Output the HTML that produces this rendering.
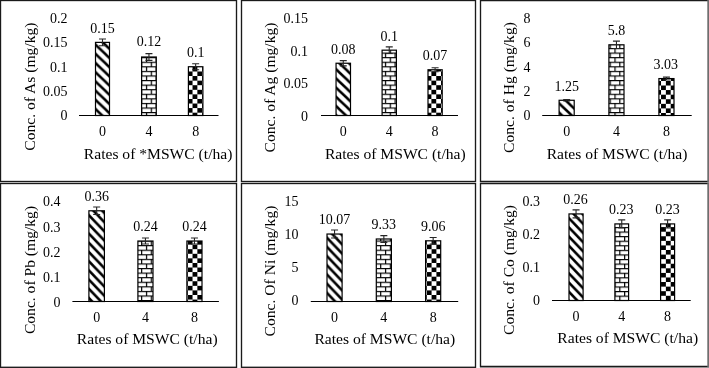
<!DOCTYPE html>
<html lang="en"><head><meta charset="utf-8"><title>Heavy metal concentrations vs MSWC rates</title>
<style>
html,body{margin:0;padding:0;background:#fff}
body{width:709px;height:368px;overflow:hidden}
svg{display:block;will-change:transform}
.t{font-family:"Liberation Serif", "DejaVu Serif", serif;font-size:14.0px;fill:#000}
.a{font-family:"Liberation Serif", "DejaVu Serif", serif;font-size:15.6px;fill:#000}
</style></head><body>
<svg width="709" height="368" viewBox="0 0 709 368">
<rect width="709" height="368" fill="#fff"/>
<defs>
<pattern id="diag0" patternUnits="userSpaceOnUse" width="9.66" height="9.2" x="0" y="-0.3"><rect width="9.66" height="9.2" fill="#fff"/><path d="M-9.66 -9.2L19.32 18.4M-19.32 -9.2L9.66 18.4M0 -9.2L28.98 18.4" stroke="#000" stroke-width="2.5"/></pattern>
<pattern id="brick0" patternUnits="userSpaceOnUse" width="9.66" height="9.155" x="1.0" y="2.2"><rect width="9.66" height="9.155" fill="#fff"/><path d="M0 0.6H9.66M0 5.177499999999999H9.66M0.6 0V4.5775M5.43 4.5775V9.155" stroke="#000" stroke-width="1.2"/></pattern>
<pattern id="check0" patternUnits="userSpaceOnUse" width="9.66" height="9.155" x="4.16" y="7.4"><rect width="9.66" height="9.155" fill="#fff"/><rect width="4.83" height="4.5775" fill="#000"/><rect x="4.83" y="4.5775" width="4.83" height="4.5775" fill="#000"/></pattern>
<pattern id="diag1" patternUnits="userSpaceOnUse" width="9.66" height="9.2" x="0" y="-2.4"><rect width="9.66" height="9.2" fill="#fff"/><path d="M-9.66 -9.2L19.32 18.4M-19.32 -9.2L9.66 18.4M0 -9.2L28.98 18.4" stroke="#000" stroke-width="2.5"/></pattern>
<pattern id="brick1" patternUnits="userSpaceOnUse" width="9.66" height="9.155" x="3.3" y="2.2"><rect width="9.66" height="9.155" fill="#fff"/><path d="M0 0.6H9.66M0 5.177499999999999H9.66M0.6 0V4.5775M5.43 4.5775V9.155" stroke="#000" stroke-width="1.2"/></pattern>
<pattern id="check1" patternUnits="userSpaceOnUse" width="9.66" height="9.155" x="6.36" y="7.4"><rect width="9.66" height="9.155" fill="#fff"/><rect width="4.83" height="4.5775" fill="#000"/><rect x="4.83" y="4.5775" width="4.83" height="4.5775" fill="#000"/></pattern>
<pattern id="diag2" patternUnits="userSpaceOnUse" width="9.66" height="9.2" x="0" y="3.3"><rect width="9.66" height="9.2" fill="#fff"/><path d="M-9.66 -9.2L19.32 18.4M-19.32 -9.2L9.66 18.4M0 -9.2L28.98 18.4" stroke="#000" stroke-width="2.5"/></pattern>
<pattern id="brick2" patternUnits="userSpaceOnUse" width="9.66" height="9.155" x="5.83" y="2.2"><rect width="9.66" height="9.155" fill="#fff"/><path d="M0 0.6H9.66M0 5.177499999999999H9.66M0.6 0V4.5775M5.43 4.5775V9.155" stroke="#000" stroke-width="1.2"/></pattern>
<pattern id="check2" patternUnits="userSpaceOnUse" width="9.66" height="9.155" x="8.99" y="7.7"><rect width="9.66" height="9.155" fill="#fff"/><rect width="4.83" height="4.5775" fill="#000"/><rect x="4.83" y="4.5775" width="4.83" height="4.5775" fill="#000"/></pattern>
<pattern id="diag3" patternUnits="userSpaceOnUse" width="8.8" height="9.2" x="0" y="2.7"><rect width="8.8" height="9.2" fill="#fff"/><path d="M-8.8 -9.2L17.6 18.4M-17.6 -9.2L8.8 18.4M0 -9.2L26.400000000000002 18.4" stroke="#000" stroke-width="2.6"/></pattern>
<pattern id="brick3" patternUnits="userSpaceOnUse" width="9.66" height="9.155" x="5.83" y="2.5"><rect width="9.66" height="9.155" fill="#fff"/><path d="M0 0.6H9.66M0 5.177499999999999H9.66M0.6 0V4.5775M5.43 4.5775V9.155" stroke="#000" stroke-width="1.2"/></pattern>
<pattern id="check3" patternUnits="userSpaceOnUse" width="9.66" height="9.155" x="8.99" y="6.6"><rect width="9.66" height="9.155" fill="#fff"/><rect width="4.83" height="4.5775" fill="#000"/><rect x="4.83" y="4.5775" width="4.83" height="4.5775" fill="#000"/></pattern>
<pattern id="diag4" patternUnits="userSpaceOnUse" width="8.8" height="9.2" x="0" y="6.3"><rect width="8.8" height="9.2" fill="#fff"/><path d="M-8.8 -9.2L17.6 18.4M-17.6 -9.2L8.8 18.4M0 -9.2L26.400000000000002 18.4" stroke="#000" stroke-width="2.6"/></pattern>
<pattern id="brick4" patternUnits="userSpaceOnUse" width="9.66" height="9.155" x="-1.45" y="2.5"><rect width="9.66" height="9.155" fill="#fff"/><path d="M0 0.6H9.66M0 5.177499999999999H9.66M0.6 0V4.5775M5.43 4.5775V9.155" stroke="#000" stroke-width="1.2"/></pattern>
<pattern id="check4" patternUnits="userSpaceOnUse" width="9.66" height="9.155" x="1.71" y="6.6"><rect width="9.66" height="9.155" fill="#fff"/><rect width="4.83" height="4.5775" fill="#000"/><rect x="4.83" y="4.5775" width="4.83" height="4.5775" fill="#000"/></pattern>
<pattern id="diag5" patternUnits="userSpaceOnUse" width="8.8" height="9.2" x="0" y="0.6"><rect width="8.8" height="9.2" fill="#fff"/><path d="M-8.8 -9.2L17.6 18.4M-17.6 -9.2L8.8 18.4M0 -9.2L26.400000000000002 18.4" stroke="#000" stroke-width="2.6"/></pattern>
<pattern id="brick5" patternUnits="userSpaceOnUse" width="9.66" height="9.155" x="1.0" y="2.65"><rect width="9.66" height="9.155" fill="#fff"/><path d="M0 0.6H9.66M0 5.177499999999999H9.66M0.6 0V4.5775M5.43 4.5775V9.155" stroke="#000" stroke-width="1.2"/></pattern>
<pattern id="check5" patternUnits="userSpaceOnUse" width="9.66" height="9.155" x="4.16" y="7.4"><rect width="9.66" height="9.155" fill="#fff"/><rect width="4.83" height="4.5775" fill="#000"/><rect x="4.83" y="4.5775" width="4.83" height="4.5775" fill="#000"/></pattern>
</defs>
<g id="panel-As">
<rect x="0.5" y="0.5" width="236.00" height="181.00" fill="#fff" stroke="#1a1a1a" stroke-width="1.35"/>
<text class="t" transform="translate(67.50 120.30) scale(1 1.05)" text-anchor="end">0</text>
<text class="t" transform="translate(67.50 95.92) scale(1 1.05)" text-anchor="end">0.05</text>
<text class="t" transform="translate(67.50 71.55) scale(1 1.05)" text-anchor="end">0.1</text>
<text class="t" transform="translate(67.50 47.17) scale(1 1.05)" text-anchor="end">0.15</text>
<text class="t" transform="translate(67.50 22.80) scale(1 1.05)" text-anchor="end">0.2</text>
<rect x="95.50" y="42.38" width="14.00" height="73.12" fill="url(#diag0)" stroke="#000" stroke-width="1.2"/>
<path d="M102.50 38.96V45.79M99.00 38.96H106.00M99.00 45.79H106.00" stroke="#262626" stroke-width="1.1" fill="none"/>
<text class="t" transform="translate(102.50 32.88) scale(1 1.05)" text-anchor="middle">0.15</text>
<text class="t" transform="translate(102.50 136.30) scale(1 1.05)" text-anchor="middle">0</text>
<rect x="141.60" y="57.00" width="14.70" height="58.50" fill="url(#brick0)" stroke="#000" stroke-width="1.2"/>
<path d="M148.95 53.59V60.41M145.45 53.59H152.45M145.45 60.41H152.45" stroke="#262626" stroke-width="1.1" fill="none"/>
<text class="t" transform="translate(148.95 46.00) scale(1 1.05)" text-anchor="middle">0.12</text>
<text class="t" transform="translate(148.95 136.30) scale(1 1.05)" text-anchor="middle">4</text>
<rect x="188.40" y="66.75" width="14.50" height="48.75" fill="url(#check0)" stroke="#000" stroke-width="1.2"/>
<path d="M195.65 63.82V69.68M192.15 63.82H199.15M192.15 69.68H199.15" stroke="#262626" stroke-width="1.1" fill="none"/>
<text class="t" transform="translate(195.65 56.95) scale(1 1.05)" text-anchor="middle">0.1</text>
<text class="t" transform="translate(195.65 136.30) scale(1 1.05)" text-anchor="middle">8</text>
<line x1="79" y1="115.5" x2="218.5" y2="115.5" stroke="#000" stroke-width="1.2"/>
<text class="a" transform="translate(158.10 159.00)" text-anchor="middle">Rates of *MSWC (t/ha)</text>
<text class="a" transform="translate(35.00 86.60) rotate(-90)" text-anchor="middle">Conc. of As (mg/kg)</text>
</g>
<g id="panel-Ag">
<rect x="241.5" y="0.5" width="234.00" height="181.00" fill="#fff" stroke="#1a1a1a" stroke-width="1.35"/>
<text class="t" transform="translate(308.00 121.00) scale(1 1.05)" text-anchor="end">0</text>
<text class="t" transform="translate(308.00 88.33) scale(1 1.05)" text-anchor="end">0.05</text>
<text class="t" transform="translate(308.00 55.67) scale(1 1.05)" text-anchor="end">0.1</text>
<text class="t" transform="translate(308.00 23.00) scale(1 1.05)" text-anchor="end">0.15</text>
<rect x="336.05" y="63.23" width="14.45" height="52.27" fill="url(#diag1)" stroke="#000" stroke-width="1.2"/>
<path d="M343.27 60.62V65.85M339.77 60.62H346.77M339.77 65.85H346.77" stroke="#262626" stroke-width="1.1" fill="none"/>
<text class="t" transform="translate(343.27 53.73) scale(1 1.05)" text-anchor="middle">0.08</text>
<text class="t" transform="translate(343.27 136.30) scale(1 1.05)" text-anchor="middle">0</text>
<rect x="382.10" y="50.17" width="14.30" height="65.33" fill="url(#brick1)" stroke="#000" stroke-width="1.2"/>
<path d="M389.25 46.90V53.43M385.75 46.90H392.75M385.75 53.43H392.75" stroke="#262626" stroke-width="1.1" fill="none"/>
<text class="t" transform="translate(389.25 40.67) scale(1 1.05)" text-anchor="middle">0.1</text>
<text class="t" transform="translate(389.25 136.30) scale(1 1.05)" text-anchor="middle">4</text>
<rect x="428.00" y="69.77" width="14.20" height="45.73" fill="url(#check1)" stroke="#000" stroke-width="1.2"/>
<path d="M435.10 67.81V71.73M431.60 67.81H438.60M431.60 71.73H438.60" stroke="#262626" stroke-width="1.1" fill="none"/>
<text class="t" transform="translate(435.10 60.27) scale(1 1.05)" text-anchor="middle">0.07</text>
<text class="t" transform="translate(435.10 136.30) scale(1 1.05)" text-anchor="middle">8</text>
<line x1="321" y1="115.5" x2="458" y2="115.5" stroke="#000" stroke-width="1.2"/>
<text class="a" transform="translate(395.30 158.80)" text-anchor="middle">Rates of MSWC (t/ha)</text>
<text class="a" transform="translate(274.60 87.50) rotate(-90)" text-anchor="middle">Conc. of Ag (mg/kg)</text>
</g>
<g id="panel-Hg">
<path d="M709 0.5H480.5V181.5H709" fill="none" stroke="#1a1a1a" stroke-width="1.35"/>
<rect x="707.3" y="-0.15" width="1.7" height="182.30" fill="#6e6e6e"/>
<text class="t" transform="translate(530.50 120.30) scale(1 1.05)" text-anchor="end">0</text>
<text class="t" transform="translate(530.50 95.92) scale(1 1.05)" text-anchor="end">2</text>
<text class="t" transform="translate(530.50 71.55) scale(1 1.05)" text-anchor="end">4</text>
<text class="t" transform="translate(530.50 47.17) scale(1 1.05)" text-anchor="end">6</text>
<text class="t" transform="translate(530.50 22.80) scale(1 1.05)" text-anchor="end">8</text>
<rect x="559.10" y="100.27" width="15.10" height="15.23" fill="url(#diag2)" stroke="#000" stroke-width="1.2"/>
<path d="M566.65 99.53V101.00M563.15 99.53H570.15M563.15 101.00H570.15" stroke="#262626" stroke-width="1.1" fill="none"/>
<text class="t" transform="translate(566.65 90.77) scale(1 1.05)" text-anchor="middle">1.25</text>
<text class="t" transform="translate(566.65 136.30) scale(1 1.05)" text-anchor="middle">0</text>
<rect x="608.90" y="44.81" width="15.10" height="70.69" fill="url(#brick2)" stroke="#000" stroke-width="1.2"/>
<path d="M616.45 41.16V48.47M612.95 41.16H619.95M612.95 48.47H619.95" stroke="#262626" stroke-width="1.1" fill="none"/>
<text class="t" transform="translate(616.45 35.31) scale(1 1.05)" text-anchor="middle">5.8</text>
<text class="t" transform="translate(616.45 136.30) scale(1 1.05)" text-anchor="middle">4</text>
<rect x="658.90" y="78.57" width="15.10" height="36.93" fill="url(#check2)" stroke="#000" stroke-width="1.2"/>
<path d="M666.45 77.11V80.03M662.95 77.11H669.95M662.95 80.03H669.95" stroke="#262626" stroke-width="1.1" fill="none"/>
<text class="t" transform="translate(665.85 69.07) scale(1 1.05)" text-anchor="middle">3.03</text>
<text class="t" transform="translate(666.45 136.30) scale(1 1.05)" text-anchor="middle">8</text>
<line x1="542.2" y1="115.5" x2="691.7" y2="115.5" stroke="#000" stroke-width="1.2"/>
<text class="a" transform="translate(617.00 159.00)" text-anchor="middle">Rates of MSWC (t/ha)</text>
<text class="a" transform="translate(514.00 87.50) rotate(-90)" text-anchor="middle">Conc. of Hg (mg/kg)</text>
</g>
<g id="panel-Pb">
<rect x="0.5" y="183.5" width="236.00" height="183.80" fill="#fff" stroke="#1a1a1a" stroke-width="1.35"/>
<text class="t" transform="translate(60.50 307.10) scale(1 1.05)" text-anchor="end">0</text>
<text class="t" transform="translate(60.50 281.90) scale(1 1.05)" text-anchor="end">0.1</text>
<text class="t" transform="translate(60.50 256.70) scale(1 1.05)" text-anchor="end">0.2</text>
<text class="t" transform="translate(60.50 231.50) scale(1 1.05)" text-anchor="end">0.3</text>
<text class="t" transform="translate(60.50 206.30) scale(1 1.05)" text-anchor="end">0.4</text>
<rect x="88.90" y="210.78" width="15.50" height="90.72" fill="url(#diag3)" stroke="#000" stroke-width="1.2"/>
<path d="M96.65 207.00V214.56M93.15 207.00H100.15M93.15 214.56H100.15" stroke="#262626" stroke-width="1.1" fill="none"/>
<text class="t" transform="translate(96.65 201.28) scale(1 1.05)" text-anchor="middle">0.36</text>
<text class="t" transform="translate(96.65 322.00) scale(1 1.05)" text-anchor="middle">0</text>
<rect x="137.90" y="241.02" width="15.10" height="60.48" fill="url(#brick3)" stroke="#000" stroke-width="1.2"/>
<path d="M145.45 238.00V244.04M141.95 238.00H148.95M141.95 244.04H148.95" stroke="#262626" stroke-width="1.1" fill="none"/>
<text class="t" transform="translate(145.45 230.82) scale(1 1.05)" text-anchor="middle">0.24</text>
<text class="t" transform="translate(145.45 322.00) scale(1 1.05)" text-anchor="middle">4</text>
<rect x="186.90" y="241.02" width="15.10" height="60.48" fill="url(#check3)" stroke="#000" stroke-width="1.2"/>
<path d="M194.45 238.00V244.04M190.95 238.00H197.95M190.95 244.04H197.95" stroke="#262626" stroke-width="1.1" fill="none"/>
<text class="t" transform="translate(194.45 230.82) scale(1 1.05)" text-anchor="middle">0.24</text>
<text class="t" transform="translate(194.45 322.00) scale(1 1.05)" text-anchor="middle">8</text>
<line x1="72.4" y1="301.5" x2="218.9" y2="301.5" stroke="#000" stroke-width="1.2"/>
<text class="a" transform="translate(147.20 344.30)" text-anchor="middle">Rates of MSWC (t/ha)</text>
<text class="a" transform="translate(34.60 270.00) rotate(-90)" text-anchor="middle">Conc. of Pb (mg/kg)</text>
</g>
<g id="panel-Ni">
<rect x="241.5" y="183.5" width="234.00" height="183.80" fill="#fff" stroke="#1a1a1a" stroke-width="1.35"/>
<text class="t" transform="translate(298.50 305.30) scale(1 1.05)" text-anchor="end">0</text>
<text class="t" transform="translate(298.50 272.08) scale(1 1.05)" text-anchor="end">5</text>
<text class="t" transform="translate(298.50 238.87) scale(1 1.05)" text-anchor="end">10</text>
<text class="t" transform="translate(298.50 205.65) scale(1 1.05)" text-anchor="end">15</text>
<rect x="327.00" y="234.03" width="15.10" height="67.47" fill="url(#diag4)" stroke="#000" stroke-width="1.2"/>
<path d="M334.55 230.01V238.05M331.05 230.01H338.05M331.05 238.05H338.05" stroke="#262626" stroke-width="1.1" fill="none"/>
<text class="t" transform="translate(334.55 223.93) scale(1 1.05)" text-anchor="middle">10.07</text>
<text class="t" transform="translate(334.55 322.00) scale(1 1.05)" text-anchor="middle">0</text>
<rect x="376.30" y="238.99" width="15.10" height="62.51" fill="url(#brick4)" stroke="#000" stroke-width="1.2"/>
<path d="M383.85 235.64V242.34M380.35 235.64H387.35M380.35 242.34H387.35" stroke="#262626" stroke-width="1.1" fill="none"/>
<text class="t" transform="translate(383.85 229.49) scale(1 1.05)" text-anchor="middle">9.33</text>
<text class="t" transform="translate(383.85 322.00) scale(1 1.05)" text-anchor="middle">4</text>
<rect x="425.60" y="240.80" width="15.10" height="60.70" fill="url(#check4)" stroke="#000" stroke-width="1.2"/>
<path d="M433.15 237.45V244.15M429.65 237.45H436.65M429.65 244.15H436.65" stroke="#262626" stroke-width="1.1" fill="none"/>
<text class="t" transform="translate(433.15 231.30) scale(1 1.05)" text-anchor="middle">9.06</text>
<text class="t" transform="translate(433.15 322.00) scale(1 1.05)" text-anchor="middle">8</text>
<line x1="310.8" y1="301.5" x2="458.2" y2="301.5" stroke="#000" stroke-width="1.2"/>
<text class="a" transform="translate(384.80 344.30)" text-anchor="middle">Rates of MSWC (t/ha)</text>
<text class="a" transform="translate(274.50 271.00) rotate(-90)" text-anchor="middle">Conc. Of Ni (mg/kg)</text>
</g>
<g id="panel-Co">
<path d="M709 183.5H480.5V366.5H709" fill="none" stroke="#1a1a1a" stroke-width="1.35"/>
<rect x="707.3" y="182.85" width="1.7" height="184.30" fill="#6e6e6e"/>
<text class="t" transform="translate(540.00 305.30) scale(1 1.05)" text-anchor="end">0</text>
<text class="t" transform="translate(540.00 272.20) scale(1 1.05)" text-anchor="end">0.1</text>
<text class="t" transform="translate(540.00 239.10) scale(1 1.05)" text-anchor="end">0.2</text>
<text class="t" transform="translate(540.00 206.00) scale(1 1.05)" text-anchor="end">0.3</text>
<rect x="569.00" y="213.92" width="14.10" height="86.58" fill="url(#diag5)" stroke="#000" stroke-width="1.2"/>
<path d="M576.05 209.92V217.92M572.55 209.92H579.55M572.55 217.92H579.55" stroke="#262626" stroke-width="1.1" fill="none"/>
<text class="t" transform="translate(575.45 204.22) scale(1 1.05)" text-anchor="middle">0.26</text>
<text class="t" transform="translate(576.05 321.10) scale(1 1.05)" text-anchor="middle">0</text>
<rect x="614.90" y="223.91" width="13.70" height="76.59" fill="url(#brick5)" stroke="#000" stroke-width="1.2"/>
<path d="M621.75 219.91V227.91M618.25 219.91H625.25M618.25 227.91H625.25" stroke="#262626" stroke-width="1.1" fill="none"/>
<text class="t" transform="translate(621.25 214.41) scale(1 1.05)" text-anchor="middle">0.23</text>
<text class="t" transform="translate(621.75 321.10) scale(1 1.05)" text-anchor="middle">4</text>
<rect x="660.60" y="223.91" width="14.00" height="76.59" fill="url(#check5)" stroke="#000" stroke-width="1.2"/>
<path d="M667.60 219.91V227.91M664.10 219.91H671.10M664.10 227.91H671.10" stroke="#262626" stroke-width="1.1" fill="none"/>
<text class="t" transform="translate(667.60 214.41) scale(1 1.05)" text-anchor="middle">0.23</text>
<text class="t" transform="translate(667.60 321.10) scale(1 1.05)" text-anchor="middle">8</text>
<line x1="552" y1="300.5" x2="690.7" y2="300.5" stroke="#000" stroke-width="1.2"/>
<text class="a" transform="translate(627.70 342.90)" text-anchor="middle">Rates of MSWC (t/ha)</text>
<text class="a" transform="translate(514.00 270.00) rotate(-90)" text-anchor="middle">Conc. of Co (mg/kg)</text>
</g>
<rect x="480" y="367.15" width="229" height="0.85" fill="#8a8a8a"/>
</svg>
</body></html>
